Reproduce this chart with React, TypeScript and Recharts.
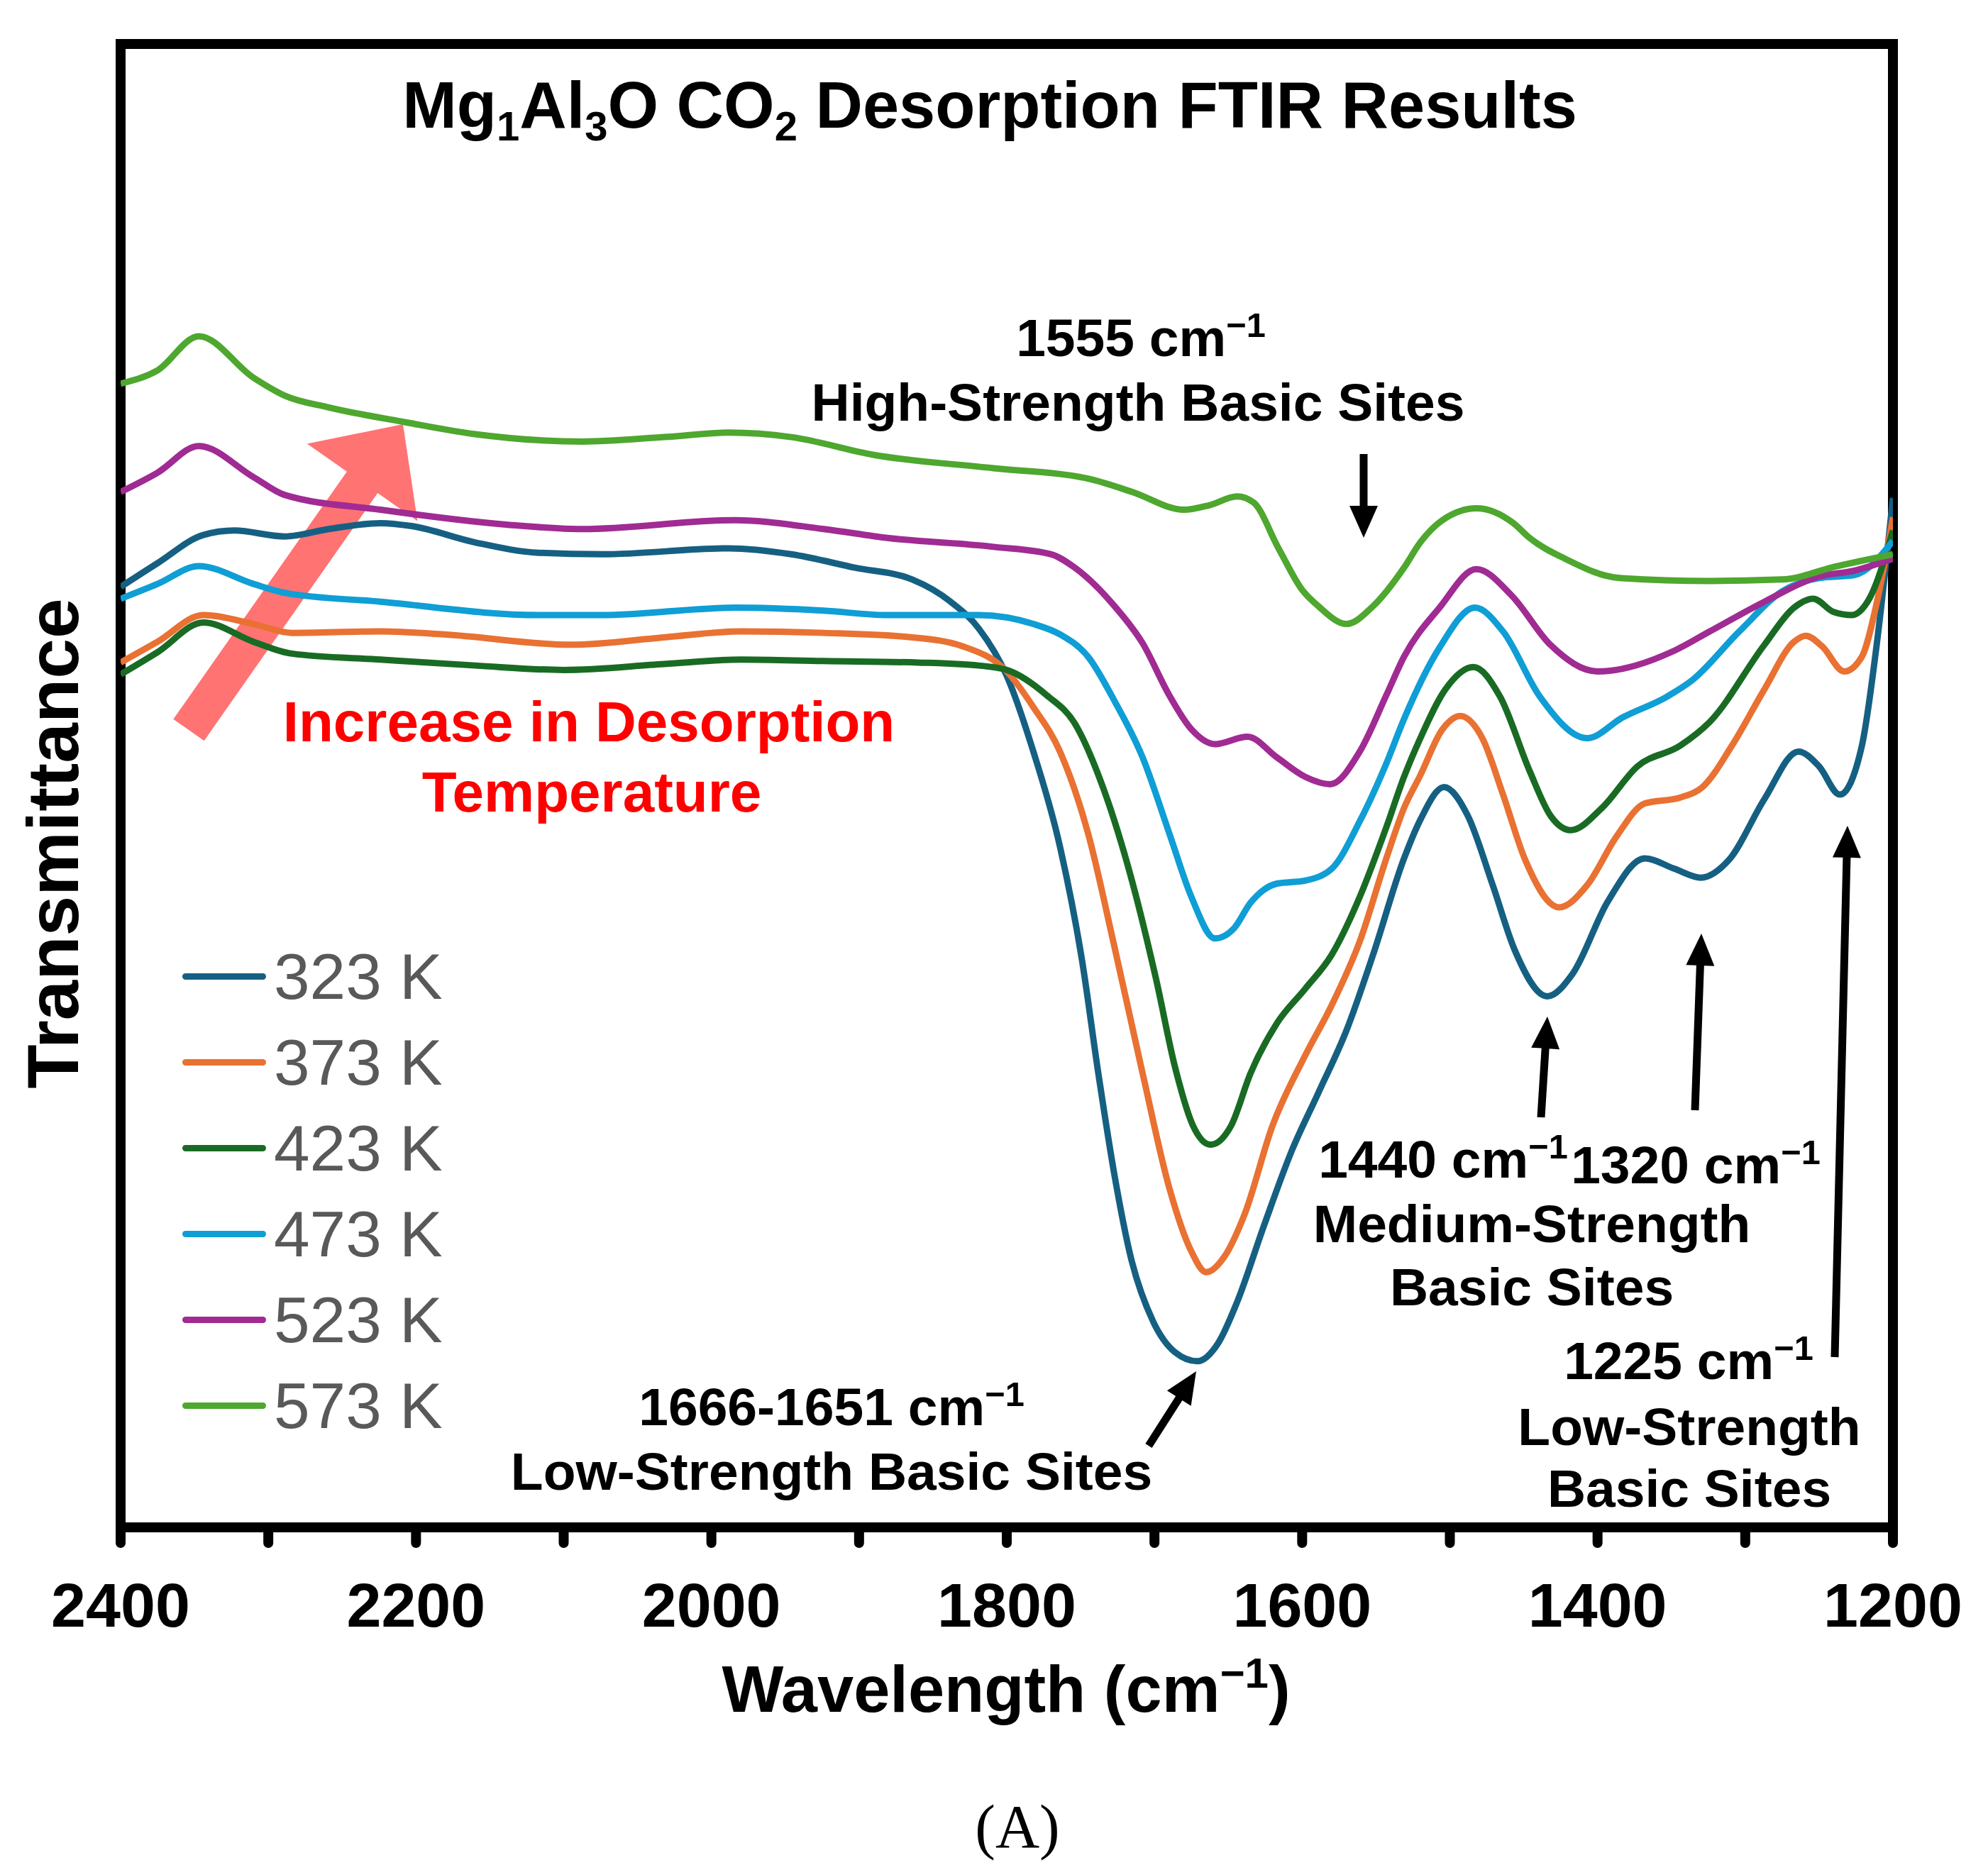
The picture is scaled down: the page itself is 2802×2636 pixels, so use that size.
import React from "react"
import { Customized, Legend, Line, LineChart, ReferenceArea, XAxis, YAxis } from "recharts"

const FONT = '"Liberation Sans", Arial, Helvetica, sans-serif'

// wavenumber axis (cm-1), every 100 ticked, every 200 labelled
const wavenumberTicks = [2400, 2300, 2200, 2100, 2000, 1900, 1800, 1700, 1600, 1500, 1400, 1300, 1200]
const labelledTicks = [2400, 2200, 2000, 1800, 1600, 1400, 1200]

// transmittance (arbitrary units), [wavenumber, value]
const k323 = [
  [2400, 63.4], [2375, 65.0], [2344, 66.9], [2323, 67.2], [2289, 66.8], [2259, 67.3], [2224, 67.7], [2203, 67.5],
  [2160, 66.4], [2117, 65.7], [2074, 65.6], [1988, 66.0], [1946, 65.6], [1903, 64.7], [1864, 63.9], [1838, 62.4],
  [1819, 60.6], [1800, 57.4], [1782, 52.3], [1764, 45.9], [1749, 38.2], [1738, 30.6], [1727, 23.7], [1716, 18.2],
  [1701, 13.9], [1686, 11.8], [1671, 11.2], [1657, 12.4], [1644, 15.2], [1626, 20.3], [1607, 25.4], [1589, 29.3],
  [1570, 33.5], [1552, 38.6], [1531, 45.1], [1520, 47.7], [1504, 49.9], [1488, 48.0], [1471, 43.3], [1456, 38.9],
  [1434, 35.8], [1417, 37.3], [1393, 42.2], [1368, 45.1], [1348, 44.4], [1330, 43.8], [1311, 45.0], [1287, 49.1],
  [1264, 52.3], [1250, 51.3], [1236, 49.4], [1221, 52.7], [1211, 59.5], [1200, 69.4],
]
const k373 = [
  [2400, 58.3], [2375, 59.7], [2344, 61.5], [2310, 60.9], [2284, 60.3], [2224, 60.4], [2181, 60.2], [2095, 59.5],
  [2032, 60.0], [1980, 60.4], [1924, 60.3], [1864, 60.0], [1830, 59.4], [1800, 57.7], [1782, 55.3], [1764, 52.3],
  [1745, 46.8], [1727, 39.1], [1708, 30.6], [1690, 22.9], [1675, 18.6], [1665, 17.2], [1653, 18.2], [1639, 21.1],
  [1620, 27.1], [1598, 31.8], [1580, 35.2], [1561, 39.5], [1543, 45.1], [1531, 48.5], [1520, 50.7], [1505, 53.8],
  [1493, 54.7], [1478, 53.2], [1464, 49.4], [1449, 45.0], [1426, 41.8], [1407, 43.3], [1387, 46.6], [1368, 48.8],
  [1344, 49.2], [1329, 49.9], [1309, 52.7], [1287, 56.5], [1267, 59.7], [1259, 60.1], [1248, 59.4], [1233, 57.7],
  [1221, 58.7], [1211, 62.3], [1200, 68.1],
]
const k423 = [
  [2400, 57.5], [2375, 59.0], [2344, 61.0], [2310, 59.7], [2284, 58.9], [2224, 58.5], [2160, 58.1], [2100, 57.8],
  [2032, 58.2], [1980, 58.5], [1924, 58.4], [1860, 58.3], [1819, 58.1], [1800, 57.8], [1773, 56.1], [1754, 54.2],
  [1736, 50.2], [1718, 44.6], [1699, 37.0], [1686, 31.0], [1674, 27.1], [1662, 25.8], [1648, 27.1], [1635, 30.6],
  [1617, 34.0], [1598, 36.3], [1580, 38.6], [1561, 42.5], [1543, 47.2], [1531, 50.6], [1520, 53.2], [1503, 56.5],
  [1484, 58.0], [1466, 56.0], [1446, 51.0], [1432, 48.0], [1418, 47.0], [1397, 48.5], [1373, 51.3], [1344, 52.7],
  [1324, 54.3], [1287, 59.5], [1267, 62.0], [1254, 62.6], [1240, 61.7], [1228, 61.5], [1216, 62.6], [1200, 67.2],
]
const k473 = [
  [2400, 62.6], [2375, 63.6], [2347, 64.8], [2310, 63.6], [2289, 63.0], [2224, 62.4], [2117, 61.5], [2074, 61.5],
  [1984, 62.0], [1924, 61.8], [1881, 61.5], [1819, 61.5], [1782, 60.9], [1764, 60.2], [1745, 58.7], [1727, 55.7],
  [1708, 51.9], [1690, 46.8], [1675, 42.5], [1659, 39.7], [1646, 40.4], [1635, 42.1], [1617, 43.4], [1598, 43.6],
  [1580, 44.4], [1561, 47.6], [1543, 51.5], [1531, 54.5], [1507, 59.3], [1483, 62.0], [1464, 60.4], [1439, 56.0],
  [1407, 53.2], [1383, 54.6], [1353, 56.0], [1336, 57.1], [1304, 60.4], [1275, 63.1], [1250, 64.0], [1226, 64.2],
  [1200, 66.5],
]
const k523 = [
  [2400, 69.8], [2375, 71.1], [2347, 72.9], [2310, 70.8], [2289, 69.6], [2224, 68.6], [2139, 67.6], [2087, 67.3],
  [1984, 67.9], [1924, 67.3], [1881, 66.7], [1809, 66.1], [1770, 65.6], [1754, 64.7], [1727, 62.1], [1708, 59.6],
  [1690, 56.1], [1675, 53.8], [1659, 52.8], [1637, 53.3], [1617, 51.9], [1598, 50.6], [1581, 50.1], [1561, 52.3],
  [1543, 56.1], [1531, 58.7], [1507, 62.0], [1482, 64.6], [1458, 62.8], [1432, 59.5], [1400, 57.7], [1348, 59.1],
  [1324, 60.4], [1287, 62.4], [1250, 64.1], [1226, 64.5], [1200, 65.3],
]
const k573 = [
  [2400, 77.1], [2375, 78.0], [2347, 80.3], [2310, 77.5], [2289, 76.3], [2259, 75.5], [2207, 74.5], [2160, 73.7],
  [2087, 73.2], [2032, 73.5], [1988, 73.8], [1946, 73.5], [1890, 72.3], [1809, 71.4], [1745, 70.7], [1715, 69.8],
  [1680, 68.6], [1663, 68.9], [1644, 69.5], [1633, 69.1], [1616, 66.0], [1600, 63.2], [1589, 62.1], [1570, 60.9],
  [1552, 62.1], [1531, 64.7], [1520, 66.4], [1505, 67.9], [1482, 68.7], [1457, 67.7], [1446, 66.7], [1422, 65.3],
  [1385, 64.0], [1324, 63.8], [1275, 63.9], [1238, 64.8], [1200, 65.6],
]

const seriesNames = ["323 K", "373 K", "423 K", "473 K", "523 K", "573 K"]
const seriesColors = ["#156082", "#E97132", "#196B24", "#0F9ED5", "#A02B93", "#4EA72E"]
const seriesValues = [k323, k373, k423, k473, k523, k573]

const series = seriesNames.map((name, i) => ({
  name,
  color: seriesColors[i],
  data: seriesValues[i].map(([w, v]) => ({ w, v })),
}))

// polygon for an arrow from (x1,y1) to its tip (x2,y2)
function arrowPoints(x1: number, y1: number, x2: number, y2: number, shaftW: number, headW: number, headL: number) {
  const len = Math.hypot(x2 - x1, y2 - y1)
  const ux = (x2 - x1) / len
  const uy = (y2 - y1) / len
  const px = -uy
  const py = ux
  const bx = x2 - ux * headL
  const by = y2 - uy * headL
  const s = shaftW / 2
  const h = headW / 2
  const pts = [
    [x1 + px * s, y1 + py * s],
    [bx + px * s, by + py * s],
    [bx + px * h, by + py * h],
    [x2, y2],
    [bx - px * h, by - py * h],
    [bx - px * s, by - py * s],
    [x1 - px * s, y1 - py * s],
  ]
  return pts.map((p) => p.join(",")).join(" ")
}

const BlackArrow = ({ x1, y1, x2, y2 }: { x1: number; y1: number; x2: number; y2: number }) => (
  <polygon points={arrowPoints(x1, y1, x2, y2, 11, 40, 45)} fill="#000" />
)

const Cm = ({ size }: { size: number }) => (
  <>
    {" cm"}
    <tspan fontSize={size * 0.65} dy={-size * 0.36}>
      −1
    </tspan>
  </>
)

const Annotations = () => (
  <g fontFamily={FONT}>
    <text x={1395} y={180} textAnchor="middle" fontSize={92} fontWeight="bold" fill="#000">
      Mg
      <tspan fontSize={58} dy={18}>1</tspan>
      <tspan dy={-18}>Al</tspan>
      <tspan fontSize={58} dy={18}>3</tspan>
      <tspan dy={-18}>{"O CO"}</tspan>
      <tspan fontSize={58} dy={18}>2</tspan>
      <tspan dy={-18}>{" Desorption FTIR Results"}</tspan>
    </text>

    <text x={110} y={1189} transform="rotate(-90 110 1189)" textAnchor="middle" fontSize={102} fontWeight="bold" fill="#000">
      Transmittance
    </text>

    <text x={1418} y={2413} textAnchor="middle" fontSize={92} fontWeight="bold" fill="#000">
      {"Wavelength (cm"}
      <tspan fontSize={60} dy={-34}>−1</tspan>
      <tspan dy={34}>)</tspan>
    </text>

    <text x={1434} y={2604} textAnchor="middle" fontSize={86} fontFamily='"Liberation Serif", "Times New Roman", serif' fill="#000">
      (A)
    </text>

    <g fontSize={75} fontWeight="bold" fill="#000" textAnchor="middle">
      <text x={1608} y={502}>1555<Cm size={75} /></text>
      <text x={1604} y={593}>High-Strength Basic Sites</text>
      <text x={1172} y={2009}>1666-1651<Cm size={75} /></text>
      <text x={1172} y={2100}>Low-Strength Basic Sites</text>
      <text x={2034} y={1660}>1440<Cm size={75} /></text>
      <text x={2390} y={1668}>1320<Cm size={75} /></text>
      <text x={2159} y={1751}>Medium-Strength</text>
      <text x={2159} y={1840}>Basic Sites</text>
      <text x={2380} y={1944}>1225<Cm size={75} /></text>
      <text x={2381} y={2037}>Low-Strength</text>
      <text x={2381} y={2124}>Basic Sites</text>
    </g>

    <BlackArrow x1={1922} y1={640} x2={1922} y2={758} />
    <BlackArrow x1={1619} y1={2038} x2={1686} y2={1933} />
    <BlackArrow x1={2172} y1={1575} x2={2181} y2={1433} />
    <BlackArrow x1={2389} y1={1565} x2={2398} y2={1316} />
    <BlackArrow x1={2586} y1={1913} x2={2604} y2={1164} />

    <polygon points={arrowPoints(266, 1029, 568, 598, 53, 190, 100)} fill="#FF0000" fillOpacity={0.55} />
    <g fontSize={80} fontWeight="bold" fill="#FF0000" textAnchor="middle">
      <text x={830} y={1045}>Increase in Desorption</text>
      <text x={834} y={1144}>Temperature</text>
    </g>
  </g>
)

const renderLegend = (props: any) => (
  <div>
    {(props.payload || []).map((entry: any) => (
      <div key={entry.value} style={{ display: "flex", alignItems: "center", height: 121 }}>
        <div style={{ width: 118, height: 9, borderRadius: 5, background: entry.color }} />
        <span style={{ marginLeft: 11, fontSize: 91, color: "#595959", fontFamily: FONT, lineHeight: 1 }}>
          {entry.value}
        </span>
      </div>
    ))}
  </div>
)

export default function App() {
  return (
    <div style={{ position: "absolute", left: 0, top: 0, width: 2802, height: 2636, background: "#fff" }}>
      <LineChart width={2802} height={2636} margin={{ top: 62, right: 134, left: 170, bottom: 383 }}>
        <XAxis
          dataKey="w"
          type="number"
          domain={[1200, 2400]}
          reversed
          ticks={wavenumberTicks}
          interval={0}
          tickFormatter={(v: number) => (labelledTicks.includes(v) ? String(v) : "")}
          tickSize={22}
          tickMargin={56}
          axisLine={false}
          tickLine={{ stroke: "#000", strokeWidth: 14, strokeLinecap: "round" }}
          tick={{ fill: "#000", fontSize: 88, fontWeight: "bold", fontFamily: FONT }}
          height={100}
          allowDataOverflow
        />
        <YAxis type="number" domain={[0, 100]} hide allowDataOverflow />
        <Legend
          content={renderLegend}
          layout="horizontal"
          verticalAlign="middle"
          align="center"
          wrapperStyle={{ left: 257, top: 1316, width: 600 }}
        />
        {series.map((s) => (
          <Line
            key={s.name}
            data={s.data}
            dataKey="v"
            name={s.name}
            type="monotone"
            stroke={s.color}
            strokeWidth={9}
            dot={false}
            activeDot={false}
            isAnimationActive={false}
          />
        ))}
        <ReferenceArea x1={1200} x2={2400} y1={0} y2={100} fill="none" stroke="#000" strokeWidth={14} ifOverflow="visible" />
        <Customized component={Annotations} />
      </LineChart>
    </div>
  )
}
